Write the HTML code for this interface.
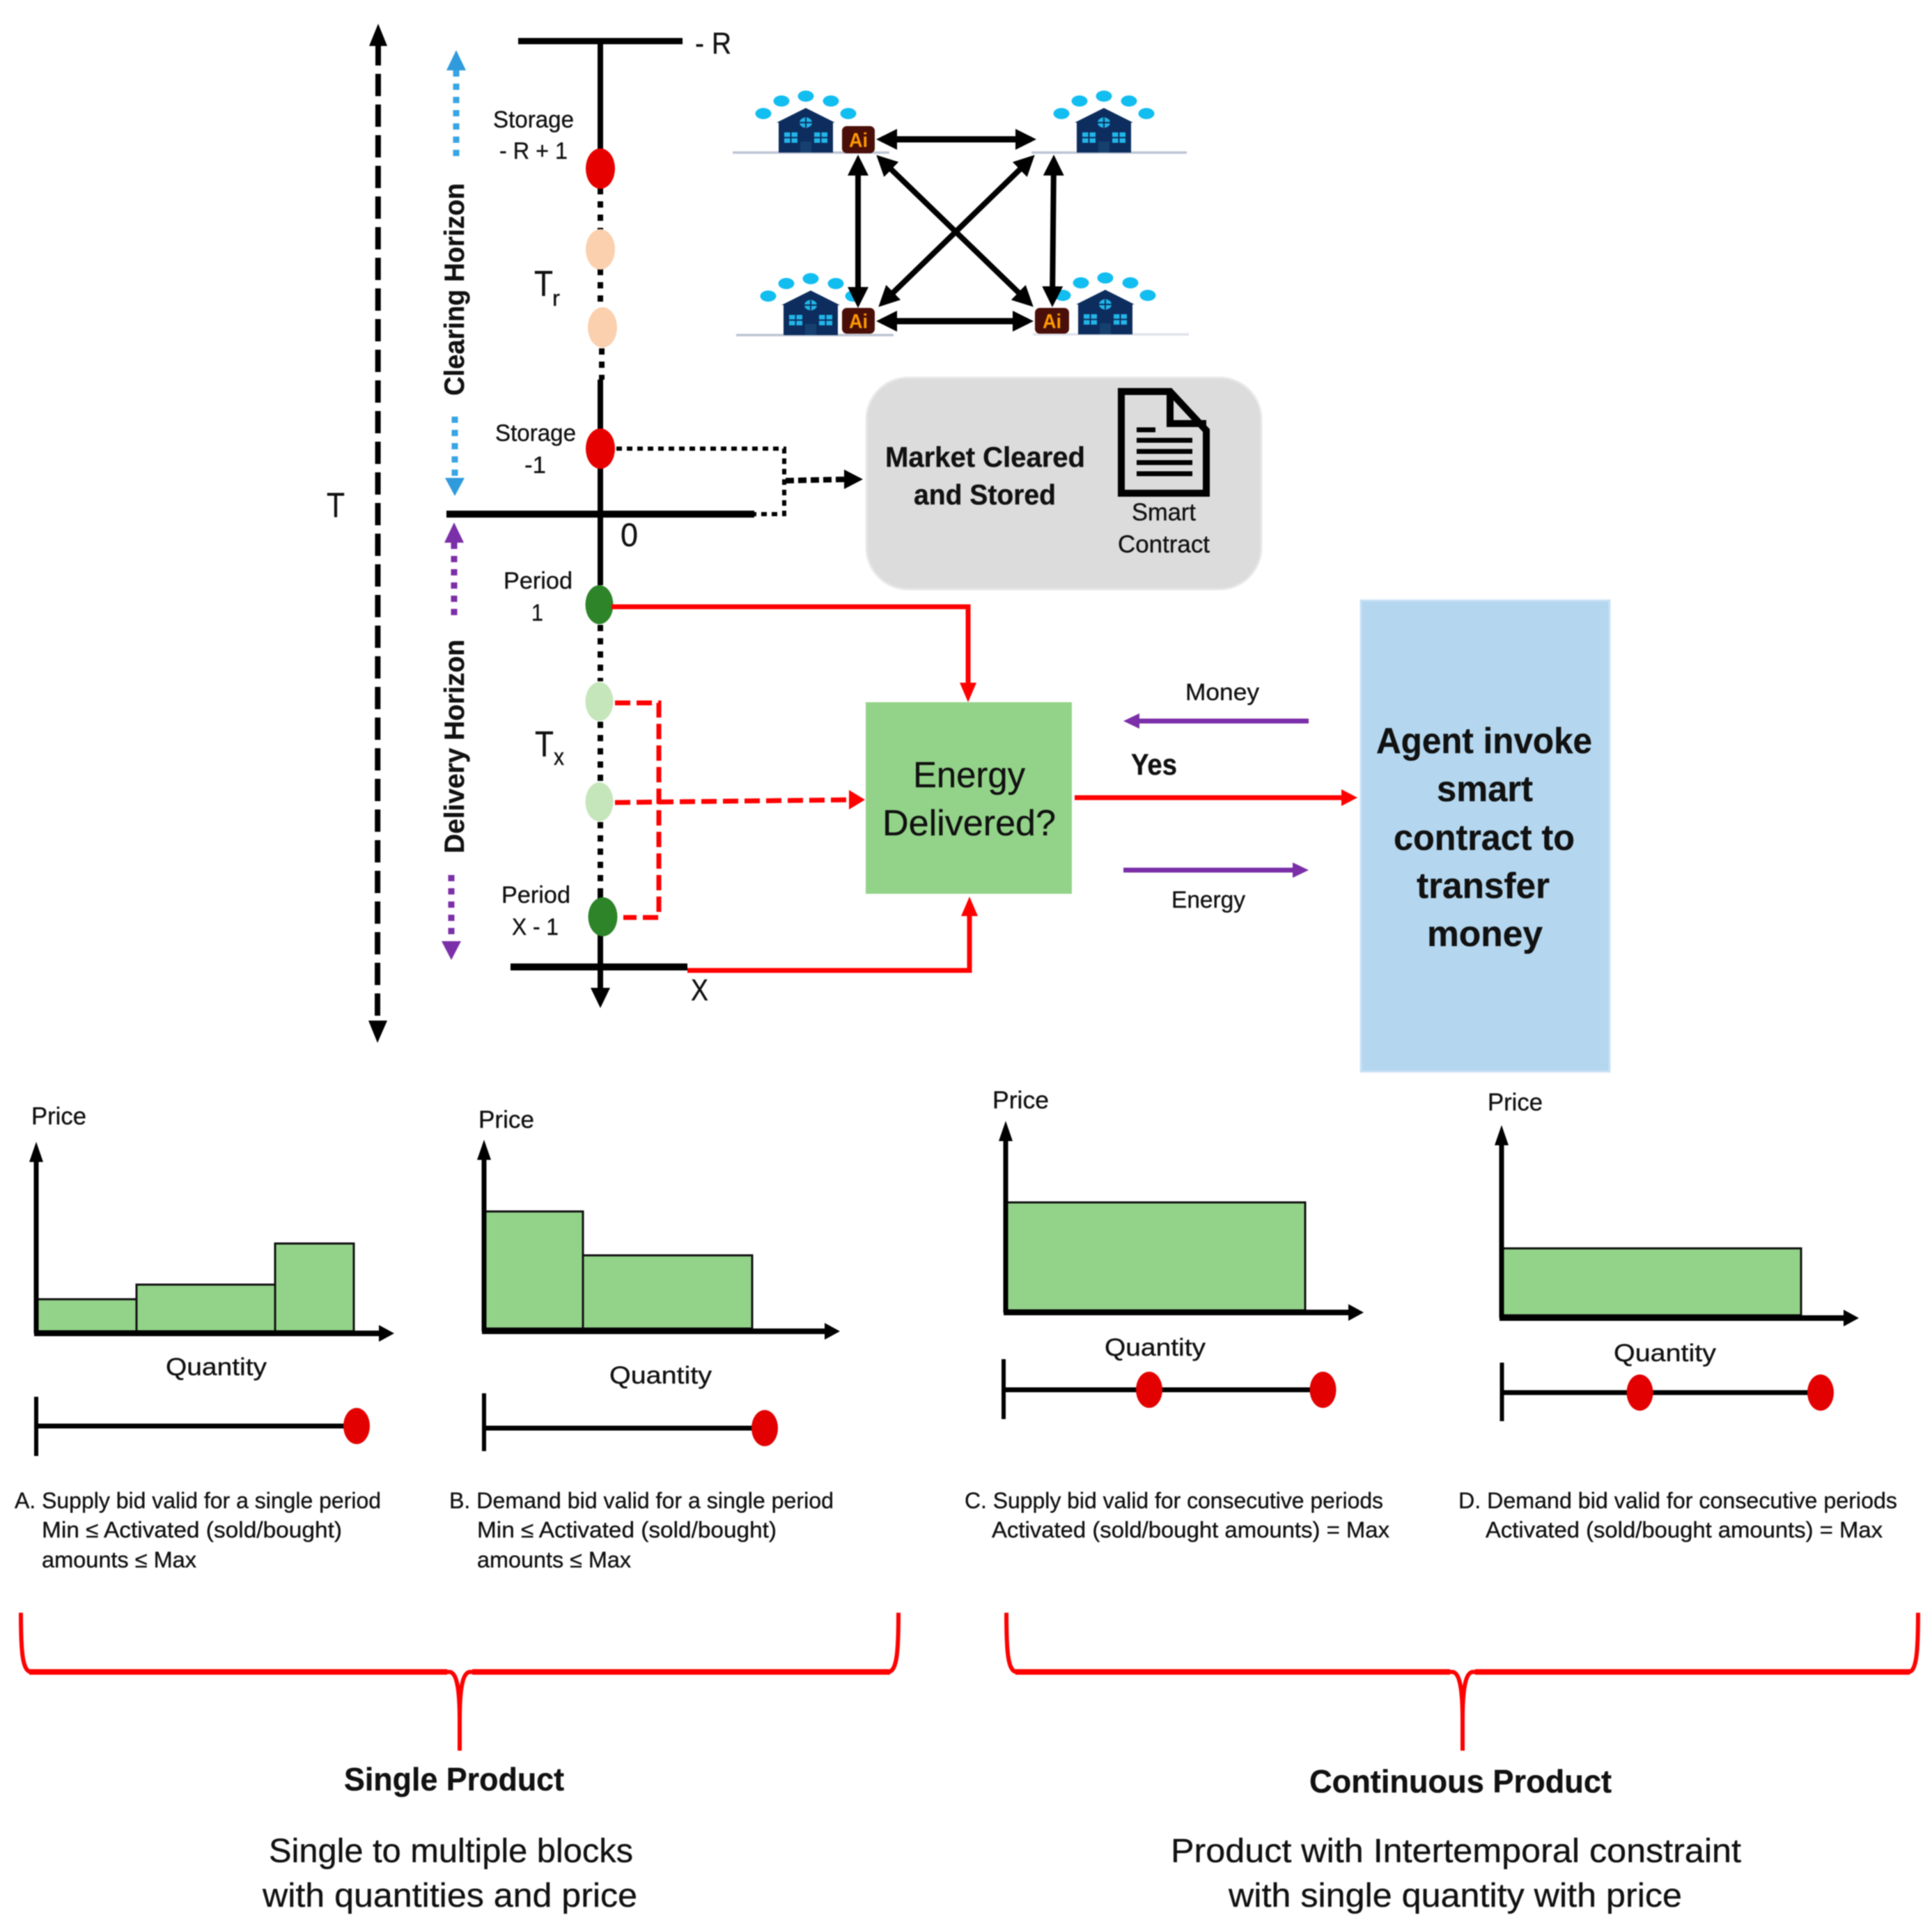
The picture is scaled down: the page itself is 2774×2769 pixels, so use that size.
<!DOCTYPE html>
<html><head><meta charset="utf-8"><style>
html,body{margin:0;padding:0;background:#fff}
svg{display:block;filter:blur(0.7px)}
text{font-family:"Liberation Sans",sans-serif;fill:#111;stroke:#111;stroke-width:.35px}
.s{font-size:34px}.p{font-size:35px}.d{font-size:32px}.b{font-weight:bold}
</style></head><body>
<svg xmlns="http://www.w3.org/2000/svg" width="2774" height="2769" viewBox="0 0 2774 2769">
<defs>
<marker id="ah" markerUnits="userSpaceOnUse" markerWidth="32" markerHeight="32" refX="22" refY="16" orient="auto-start-reverse"><path d="M0 1L30 16L0 31z" fill="#000"/></marker>
<g id="house">
<ellipse cx="-61" cy="-56" rx="11.5" ry="8" fill="#12bdf0"/><ellipse cx="-35" cy="-74" rx="11.5" ry="8" fill="#12bdf0"/><ellipse cx="0" cy="-81" rx="11.5" ry="8" fill="#12bdf0"/><ellipse cx="36" cy="-74" rx="11.5" ry="8" fill="#12bdf0"/><ellipse cx="61" cy="-56" rx="11.5" ry="8" fill="#12bdf0"/>
<path d="M-39 0V-43H-42L0 -64L42 -43H39V0z" fill="#0d2d5e"/>
<ellipse cx="0" cy="-43" rx="9" ry="7.5" fill="#22b5e8"/><path d="M0 -50V-36M-9 -43H9" stroke="#0d2d5e" stroke-width="2"/>
<rect x="-31" y="-29" width="19" height="15" fill="#22b5e8"/><rect x="12" y="-29" width="19" height="15" fill="#22b5e8"/>
<path d="M-21.5 -29V-14M-31 -21.5H-12M21.5 -29V-14M12 -21.5H31" stroke="#0d2d5e" stroke-width="2"/>
<rect x="-8" y="-16" width="16" height="16" fill="#15406f"/>
</g>
</defs>
<rect width="2774" height="2769" fill="#fff"/>

<!-- T arrow -->
<line x1="543" y1="62" x2="542" y2="1470" stroke="#000" stroke-width="8" stroke-dasharray="32 12"/>
<polygon points="543,34 530,66 556,66" fill="#000"/><polygon points="542,1497 529,1465 556,1465" fill="#000"/>
<text x="469" y="742" font-size="50" textLength="26" lengthAdjust="spacingAndGlyphs">T</text>

<!-- Horizon arrows -->
<g stroke-width="9" fill="none">
<line x1="655" y1="101" x2="655" y2="233" stroke="#38a5e4" stroke-dasharray="9 10"/>
<line x1="653" y1="598" x2="653" y2="688" stroke="#38a5e4" stroke-dasharray="9 10"/>
<line x1="652" y1="779" x2="652" y2="890" stroke="#7b2fa8" stroke-dasharray="9 10"/>
<line x1="648" y1="1256" x2="648" y2="1352" stroke="#7b2fa8" stroke-dasharray="9 10"/>
</g>
<polygon points="655,72 641,101 669,101" fill="#2f9bdc"/><polygon points="653,712 639,686 667,686" fill="#2f9bdc"/>
<polygon points="652,750 638,779 666,779" fill="#7b2fa8"/><polygon points="648,1378 634,1351 662,1351" fill="#7b2fa8"/>
<text transform="translate(666,568) rotate(-90)" font-size="40" class="b" textLength="305" lengthAdjust="spacingAndGlyphs">Clearing Horizon</text>
<text transform="translate(666,1225) rotate(-90)" font-size="40" class="b" textLength="307" lengthAdjust="spacingAndGlyphs">Delivery Horizon</text>

<!-- main timeline -->
<g stroke="#000">
<line x1="744" y1="59" x2="980" y2="59" stroke-width="9"/>
<line x1="641" y1="738" x2="1083" y2="738" stroke-width="10"/>
<line x1="733" y1="1388" x2="987" y2="1388" stroke-width="10"/>
<line x1="862" y1="59" x2="862" y2="214" stroke-width="8"/>
<line x1="862" y1="270" x2="862" y2="330" stroke-width="8" stroke-dasharray="9 10"/>
<line x1="862" y1="386" x2="862" y2="442" stroke-width="8" stroke-dasharray="9 10"/>
<line x1="864" y1="500" x2="864" y2="545" stroke-width="8" stroke-dasharray="9 10"/>
<line x1="862" y1="545" x2="862" y2="840" stroke-width="8"/>
<line x1="862" y1="897" x2="862" y2="978" stroke-width="8" stroke-dasharray="9 10"/>
<line x1="862" y1="1036" x2="862" y2="1122" stroke-width="8" stroke-dasharray="9 10"/>
<line x1="862" y1="1180" x2="862" y2="1282" stroke-width="8" stroke-dasharray="9 10"/>
<line x1="862" y1="1282" x2="862" y2="1420" stroke-width="8"/>
</g>
<polygon points="862,1447 848,1418 876,1418" fill="#000"/>
<ellipse cx="862" cy="242" rx="21" ry="29" fill="#e60000"/>
<ellipse cx="862" cy="358" rx="21" ry="29" fill="#fbd0ae"/>
<ellipse cx="865" cy="470" rx="21" ry="29" fill="#fbd0ae"/>
<ellipse cx="862" cy="644" rx="21" ry="29" fill="#e60000"/>
<ellipse cx="860.5" cy="868" rx="20" ry="28" fill="#2e8429"/>
<ellipse cx="860.5" cy="1007" rx="20" ry="28" fill="#c5e6ba"/>
<ellipse cx="860.5" cy="1151" rx="20" ry="28" fill="#c5e6ba"/>
<ellipse cx="865.5" cy="1316" rx="21" ry="28" fill="#2e8429"/>

<text x="998" y="77" font-size="44" textLength="52" lengthAdjust="spacingAndGlyphs">- R</text>
<text x="708" y="183" class="s" textLength="116" lengthAdjust="spacingAndGlyphs">Storage</text>
<text x="717" y="228" class="s" textLength="98" lengthAdjust="spacingAndGlyphs">- R + 1</text>
<text x="767" y="425" font-size="52" textLength="27" lengthAdjust="spacingAndGlyphs">T</text><text x="793" y="439" font-size="32" textLength="11" lengthAdjust="spacingAndGlyphs">r</text>
<text x="711" y="633" class="s" textLength="116" lengthAdjust="spacingAndGlyphs">Storage</text>
<text x="753" y="679" class="s" textLength="31" lengthAdjust="spacingAndGlyphs">-1</text>
<text x="891" y="784" font-size="47" textLength="25" lengthAdjust="spacingAndGlyphs">0</text>
<text x="723" y="845" class="s" textLength="99" lengthAdjust="spacingAndGlyphs">Period</text>
<text x="763" y="891" class="s" textLength="17" lengthAdjust="spacingAndGlyphs">1</text>
<text x="768" y="1086" font-size="52" textLength="27" lengthAdjust="spacingAndGlyphs">T</text><text x="795" y="1098" font-size="34" textLength="15" lengthAdjust="spacingAndGlyphs">x</text>
<text x="720" y="1296" class="s" textLength="99" lengthAdjust="spacingAndGlyphs">Period</text>
<text x="735" y="1342" class="s" textLength="67" lengthAdjust="spacingAndGlyphs">X - 1</text>
<text x="992" y="1436" font-size="44" textLength="25" lengthAdjust="spacingAndGlyphs">X</text>

<!-- houses -->
<g stroke="#bcc4d4" stroke-width="3.5">
<line x1="1052" y1="219" x2="1277" y2="219"/><line x1="1481" y1="219" x2="1704" y2="219"/>
<line x1="1057" y1="481" x2="1283" y2="481"/><line x1="1483" y1="480" x2="1707" y2="480" stroke="#dfe3ea"/>
</g>
<use href="#house" x="1157" y="219"/><use href="#house" x="1585" y="219"/><use href="#house" x="1164" y="481"/><use href="#house" x="1587" y="480"/>
<g>
<rect x="1209" y="181" width="47" height="39" rx="7" fill="#4a0f08"/>
<rect x="1209" y="442" width="47" height="37" rx="7" fill="#4a0f08"/>
<rect x="1486" y="442" width="49" height="37" rx="7" fill="#4a0f08"/>
<text x="1219" y="211" font-size="29" class="b" style="fill:#ff9a00;stroke:none" textLength="27" lengthAdjust="spacingAndGlyphs">Ai</text>
<text x="1219" y="471" font-size="29" class="b" style="fill:#ff9a00;stroke:none" textLength="27" lengthAdjust="spacingAndGlyphs">Ai</text>
<text x="1497" y="471" font-size="29" class="b" style="fill:#ff9a00;stroke:none" textLength="27" lengthAdjust="spacingAndGlyphs">Ai</text>
</g>
<g stroke="#000" stroke-width="8">
<line x1="1266" y1="200" x2="1480" y2="200" stroke-width="9" marker-start="url(#ah)" marker-end="url(#ah)"/>
<line x1="1266" y1="461" x2="1476" y2="461" stroke-width="9" marker-start="url(#ah)" marker-end="url(#ah)"/>
<line x1="1232" y1="230" x2="1232" y2="434" marker-start="url(#ah)" marker-end="url(#ah)"/>
<line x1="1513" y1="230" x2="1511" y2="433" marker-start="url(#ah)" marker-end="url(#ah)"/>
<line x1="1264" y1="228" x2="1478" y2="435" marker-start="url(#ah)" marker-end="url(#ah)"/>
<line x1="1480" y1="228" x2="1267" y2="435" marker-start="url(#ah)" marker-end="url(#ah)"/>
</g>

<!-- gray box -->
<rect x="1244" y="542" width="567" height="304" rx="60" fill="#dcdcdc" stroke="#e9e9e9" stroke-width="3"/>
<text x="1271" y="670" font-size="41" class="b" textLength="287" lengthAdjust="spacingAndGlyphs">Market Cleared</text>
<text x="1312" y="724" font-size="41" class="b" textLength="204" lengthAdjust="spacingAndGlyphs">and Stored</text>
<path d="M1610 562H1680L1732 618V708H1610zM1680 562V608H1732" fill="none" stroke="#000" stroke-width="10"/>
<g stroke="#000" stroke-width="7"><line x1="1632" y1="617" x2="1659" y2="617"/><line x1="1632" y1="632" x2="1712" y2="632"/><line x1="1632" y1="648" x2="1712" y2="648"/><line x1="1632" y1="664" x2="1712" y2="664"/><line x1="1632" y1="680" x2="1712" y2="680"/></g>
<text x="1625" y="747" class="p" textLength="92" lengthAdjust="spacingAndGlyphs">Smart</text>
<text x="1605" y="793" class="p" textLength="132" lengthAdjust="spacingAndGlyphs">Contract</text>

<!-- black dotted connector -->
<path d="M885 644H1126V738H1083" fill="none" stroke="#000" stroke-width="6" stroke-dasharray="8 7"/>
<path d="M1128 690L1215 688" fill="none" stroke="#000" stroke-width="8" stroke-dasharray="12 6"/>
<polygon points="1239,688 1212,674 1212,702" fill="#000"/>

<!-- Energy box -->
<rect x="1243" y="1008" width="296" height="275" fill="#93d389"/>
<text x="1311" y="1130" font-size="52" textLength="161" lengthAdjust="spacingAndGlyphs">Energy</text>
<text x="1267" y="1199" font-size="52" textLength="249" lengthAdjust="spacingAndGlyphs">Delivered?</text>

<!-- red connectors -->
<path d="M878 871H1390V985" fill="none" stroke="#f00" stroke-width="7"/>
<polygon points="1390,1008 1378,980 1402,980" fill="#f00"/>
<path d="M987 1393H1392V1310" fill="none" stroke="#f00" stroke-width="7"/>
<polygon points="1392,1287 1380,1315 1404,1315" fill="#f00"/>
<path d="M883 1009H946V1317H895" fill="none" stroke="#f00" stroke-width="7" stroke-dasharray="22 9"/>
<path d="M883 1152L1222 1148" fill="none" stroke="#f00" stroke-width="7" stroke-dasharray="22 9"/>
<polygon points="1242,1148 1219,1134 1219,1162" fill="#f00"/>
<line x1="1543" y1="1145" x2="1930" y2="1145" stroke="#f00" stroke-width="7"/>
<polygon points="1949,1145 1926,1133 1926,1157" fill="#f00"/>

<!-- Money / Energy -->
<line x1="1879" y1="1035" x2="1630" y2="1035" stroke="#7b2fa8" stroke-width="7"/>
<polygon points="1613,1035 1636,1024 1636,1046" fill="#7b2fa8"/>
<line x1="1613" y1="1249" x2="1862" y2="1249" stroke="#7b2fa8" stroke-width="7"/>
<polygon points="1879,1249 1856,1238 1856,1260" fill="#7b2fa8"/>
<text x="1702" y="1005" class="s" textLength="106" lengthAdjust="spacingAndGlyphs">Money</text>
<text x="1624" y="1112" font-size="43" class="b" textLength="66" lengthAdjust="spacingAndGlyphs">Yes</text>
<text x="1682" y="1303" class="s" textLength="106" lengthAdjust="spacingAndGlyphs">Energy</text>

<!-- Blue box -->
<rect x="1954" y="862" width="357" height="676" fill="#b4d7ef" stroke="#c9e2f4" stroke-width="3"/>
<g>
<text x="1976" y="1081" class="b" font-size="52" textLength="310" lengthAdjust="spacingAndGlyphs">Agent invoke</text>
<text x="2063" y="1150" class="b" font-size="52" textLength="138" lengthAdjust="spacingAndGlyphs">smart</text>
<text x="2001" y="1220" class="b" font-size="52" textLength="260" lengthAdjust="spacingAndGlyphs">contract to</text>
<text x="2034" y="1289" class="b" font-size="52" textLength="191" lengthAdjust="spacingAndGlyphs">transfer</text>
<text x="2049" y="1358" class="b" font-size="52" textLength="166" lengthAdjust="spacingAndGlyphs">money</text>
</g>

<!-- Charts -->
<g fill="#93d389" stroke="#111" stroke-width="3">
<rect x="52" y="1865" width="144" height="46"/><rect x="196" y="1844" width="199" height="67"/><rect x="395" y="1785" width="113" height="126"/>
<rect x="695" y="1739" width="142" height="168"/><rect x="837" y="1802" width="243" height="105"/>
<rect x="1444" y="1726" width="430" height="155"/>
<rect x="2156" y="1792" width="430" height="96"/>
</g>
<g stroke="#000" fill="none">
<path d="M52 1914V1660" stroke-width="7"/><path d="M49 1914H550" stroke-width="8"/>
<path d="M695 1911V1658" stroke-width="7"/><path d="M692 1911H1190" stroke-width="8"/>
<path d="M1444 1884V1630" stroke-width="7"/><path d="M1441 1884H1942" stroke-width="8"/>
<path d="M2156 1892V1636" stroke-width="7"/><path d="M2153 1892H2653" stroke-width="8"/>
<path d="M52 2005V2090" stroke-width="6"/><path d="M52 2047H500" stroke-width="7"/>
<path d="M695 2000V2083" stroke-width="6"/><path d="M695 2050H1085" stroke-width="7"/>
<path d="M1441 1951V2037" stroke-width="6"/><path d="M1441 1995H1890" stroke-width="7"/>
<path d="M2156.5 1956V2040" stroke-width="6"/><path d="M2156.5 1999H2605" stroke-width="7"/>
</g>
<g fill="#000">
<polygon points="52,1639 42,1668 62,1668"/><polygon points="566,1914 544,1902 544,1926"/>
<polygon points="695,1636 685,1665 705,1665"/><polygon points="1206,1911 1184,1899 1184,1923"/>
<polygon points="1444,1609 1434,1638 1454,1638"/><polygon points="1958,1884 1936,1872 1936,1896"/>
<polygon points="2156,1615 2146,1644 2166,1644"/><polygon points="2669,1892 2647,1880 2647,1904"/>
</g>
<g fill="#e30000">
<ellipse cx="512" cy="2047" rx="19" ry="26"/><ellipse cx="1098" cy="2050" rx="19" ry="26"/>
<ellipse cx="1650" cy="1995" rx="19" ry="26"/><ellipse cx="1899.5" cy="1995" rx="19" ry="26"/>
<ellipse cx="2354.5" cy="1999" rx="19" ry="26"/><ellipse cx="2614" cy="1999" rx="19" ry="26"/>
</g>
<text x="45" y="1614" class="p" textLength="79" lengthAdjust="spacingAndGlyphs">Price</text>
<text x="687" y="1619" class="p" textLength="80" lengthAdjust="spacingAndGlyphs">Price</text>
<text x="1425" y="1591" class="p" textLength="81" lengthAdjust="spacingAndGlyphs">Price</text>
<text x="2136" y="1594" class="p" textLength="79" lengthAdjust="spacingAndGlyphs">Price</text>
<text x="238" y="1974" class="p" textLength="145" lengthAdjust="spacingAndGlyphs">Quantity</text>
<text x="875" y="1986" class="p" textLength="147" lengthAdjust="spacingAndGlyphs">Quantity</text>
<text x="1586" y="1946" class="p" textLength="145" lengthAdjust="spacingAndGlyphs">Quantity</text>
<text x="2317" y="1954" class="p" textLength="147" lengthAdjust="spacingAndGlyphs">Quantity</text>

<text x="21" y="2165" class="d" textLength="526" lengthAdjust="spacingAndGlyphs">A. Supply bid valid for a single period</text>
<text x="60" y="2207" class="d" textLength="431" lengthAdjust="spacingAndGlyphs">Min ≤ Activated (sold/bought)</text>
<text x="60" y="2250" class="d" textLength="222" lengthAdjust="spacingAndGlyphs">amounts ≤ Max</text>
<text x="645" y="2165" class="d" textLength="552" lengthAdjust="spacingAndGlyphs">B. Demand bid valid for a single period</text>
<text x="685" y="2207" class="d" textLength="430" lengthAdjust="spacingAndGlyphs">Min ≤ Activated (sold/bought)</text>
<text x="685" y="2250" class="d" textLength="221" lengthAdjust="spacingAndGlyphs">amounts ≤ Max</text>
<text x="1385" y="2165" class="d" textLength="601" lengthAdjust="spacingAndGlyphs">C. Supply bid valid for consecutive periods</text>
<text x="1424" y="2207" class="d" textLength="571" lengthAdjust="spacingAndGlyphs">Activated (sold/bought amounts) = Max</text>
<text x="2094" y="2165" class="d" textLength="630" lengthAdjust="spacingAndGlyphs">D. Demand bid valid for consecutive periods</text>
<text x="2133" y="2207" class="d" textLength="570" lengthAdjust="spacingAndGlyphs">Activated (sold/bought amounts) = Max</text>

<!-- Braces -->
<g fill="none" stroke="#f00">
<path d="M30 2315C30 2370 32 2400 45 2400H645C656 2400 660 2425 660 2470V2513" stroke-width="6"/>
<path d="M660 2470C660 2425 664 2400 675 2400H1275C1288 2400 1290 2370 1290 2315" stroke-width="6"/>
<path d="M1445 2315C1445 2370 1447 2400 1460 2400H2085C2096 2400 2100 2425 2100 2470V2513" stroke-width="6"/>
<path d="M2100 2470C2100 2425 2104 2400 2115 2400H2740C2752 2400 2754 2370 2754 2315" stroke-width="6"/>
<path d="M42 2400H642M678 2400H1278M1458 2400H2082M2118 2400H2742" stroke-width="8"/>
</g>
<text x="494" y="2570" font-size="46" class="b" textLength="316" lengthAdjust="spacingAndGlyphs">Single Product</text>
<text x="1880" y="2573" font-size="46" class="b" textLength="434" lengthAdjust="spacingAndGlyphs">Continuous Product</text>
<text x="386" y="2673" font-size="48" textLength="523" lengthAdjust="spacingAndGlyphs">Single to multiple blocks</text>
<text x="377" y="2737" font-size="48" textLength="538" lengthAdjust="spacingAndGlyphs">with quantities and price</text>
<text x="1681" y="2673" font-size="48" textLength="819" lengthAdjust="spacingAndGlyphs">Product with Intertemporal constraint</text>
<text x="1764" y="2737" font-size="48" textLength="651" lengthAdjust="spacingAndGlyphs">with single quantity with price</text>
</svg>
</body></html>
